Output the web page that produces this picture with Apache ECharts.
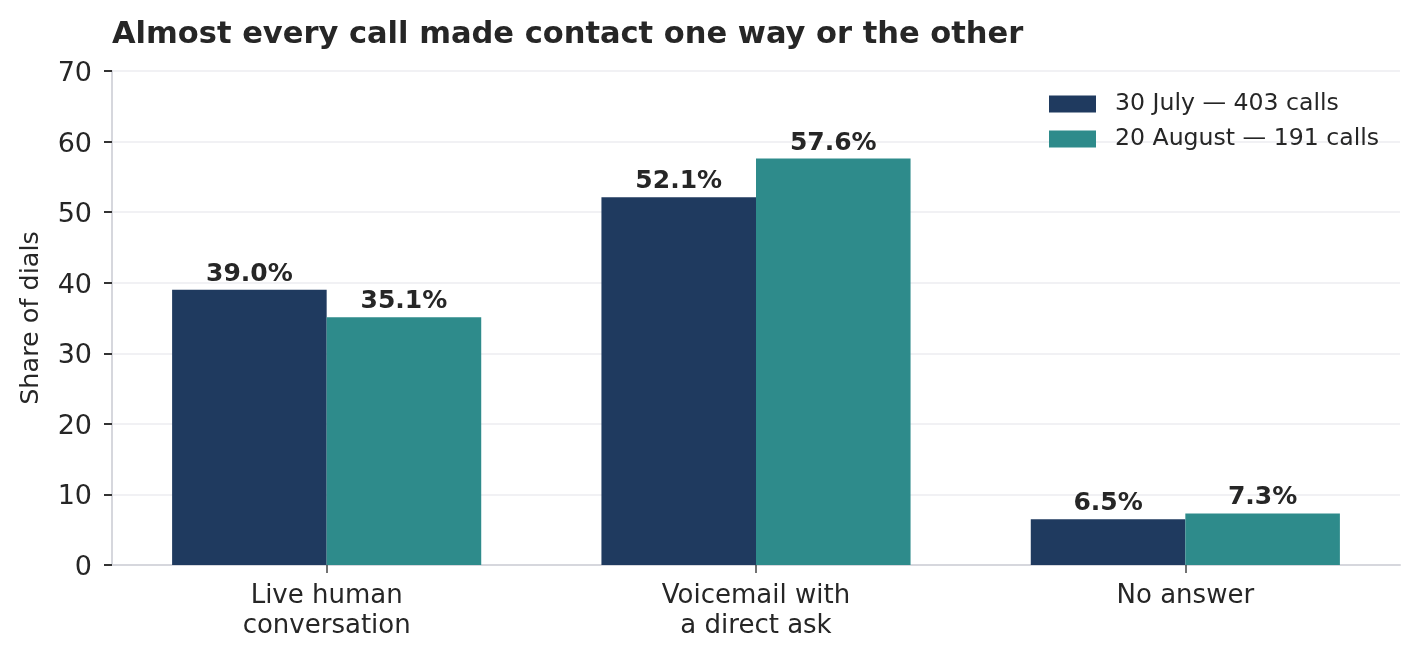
<!DOCTYPE html>
<html>
<head>
<meta charset="utf-8">
<script src="https://cdn.jsdelivr.net/npm/echarts@6/dist/echarts.min.js"></script>
<style>
  html, body { margin: 0; padding: 0; background: #fff; }
  #chart { width: 1419px; height: 660px; }
</style>
</head>
<body>
<div id="chart"></div>
<script>
var categories = ['Live human\nconversation', 'Voicemail with\na direct ask', 'No answer'];
var july = [39.0, 52.1, 6.5];
var august = [35.1, 57.6, 7.3];
var seriesNames = ['30 July \u2014 403 calls', '20 August \u2014 191 calls'];
var yTicks = { min: 0, max: 70, interval: 10 };

var textColor = '#262626';
var font = 'DejaVu Sans';

var chart = echarts.init(document.getElementById('chart'), null, { renderer: 'canvas' });

function barLabel() {
  return {
    show: true,
    position: 'top',
    distance: 3,
    fontFamily: font,
    fontWeight: 'bold',
    fontSize: 25,
    color: textColor,
    formatter: function (p) { return p.value.toFixed(1) + '%'; }
  };
}

var option = {
  backgroundColor: '#ffffff',
  animation: false,
  title: {
    text: 'Almost every call made contact one way or the other',
    left: 107,
    top: 15,
    textStyle: { fontFamily: font, fontWeight: 'bold', fontSize: 30.5, color: textColor }
  },
  legend: {
    orient: 'vertical',
    left: 1044,
    top: 87,
    align: 'left',
    icon: 'rect',
    itemWidth: 47,
    itemHeight: 17,
    itemGap: 11,
    textStyle: { fontFamily: font, fontSize: 23.6, color: textColor, padding: [0, 0, 0, 14] },
    data: seriesNames
  },
  grid: {
    left: 112, right: 19, top: 71, bottom: 95,
    outerBoundsMode: 'none'
  },
  xAxis: {
    type: 'category',
    data: categories,
    axisLine: { lineStyle: { color: '#d6d7dd', width: 2 } },
    axisTick: { show: true, alignWithLabel: true, length: 8, lineStyle: { color: '#444', width: 1.5 } },
    axisLabel: { fontFamily: font, fontSize: 26, color: textColor, margin: 16, lineHeight: 30 },
    splitLine: { show: false }
  },
  yAxis: {
    type: 'value',
    min: yTicks.min,
    max: yTicks.max,
    interval: yTicks.interval,
    name: 'Share of dials',
    nameLocation: 'middle',
    nameGap: 68,
    nameTextStyle: { fontFamily: font, fontSize: 25.5, color: textColor },
    axisLine: { show: true, lineStyle: { color: '#d6d7dd', width: 2 } },
    axisTick: { show: true, length: 8, lineStyle: { color: '#333', width: 2 } },
    axisLabel: {
      margin: 20,
      formatter: function (v) { return '{t|' + v + '}'; },
      rich: { t: { fontFamily: font, fontSize: 27, color: textColor, padding: [6, 0, 0, 0] } }
    },
    splitLine: { show: true, lineStyle: { color: '#ececf1', width: 1.5 } }
  },
  series: [
    {
      name: seriesNames[0],
      type: 'bar',
      data: july,
      barGap: '0%',
      barCategoryGap: '28%',
      itemStyle: { color: '#1f3a5f' },
      label: barLabel()
    },
    {
      name: seriesNames[1],
      type: 'bar',
      data: august,
      barGap: '0%',
      barCategoryGap: '28%',
      itemStyle: { color: '#2e8b8b' },
      label: barLabel()
    }
  ]
};

chart.setOption(option);
</script>
</body>
</html>
